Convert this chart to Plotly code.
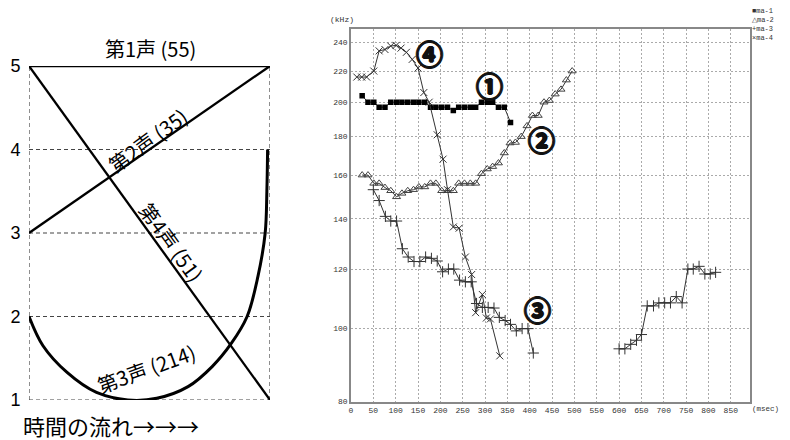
import numpy as np
import plotly.graph_objects as go

# ---------------- Left chart: tone contours ----------------
tone1_x = [0, 1]
tone1_y = [5, 5]
tone2_x = [0, 1]
tone2_y = [3, 5]
tone4_x = [0, 1]
tone4_y = [5, 1]
tone3_x = [0, 0.058, 0.158, 0.28, 0.41, 0.53, 0.66, 0.76, 0.84, 0.905, 0.95, 0.98, 0.987, 0.99]
tone3_y = [2, 1.65, 1.33, 1.09, 1.0, 1.02, 1.16, 1.4, 1.68, 2.0, 2.48, 3.0, 3.5, 4.0]
left_ticks = [1, 2, 3, 4, 5]

# ---------------- Right chart: pitch measurements ----------------
ma1_x = [25, 38, 51, 63, 76, 89, 102, 114, 127, 140, 152, 165, 178, 190, 203, 216, 229,
         241, 254, 267, 279, 292, 305, 317, 330, 343, 357]
ma1_y = [204, 200, 200, 197, 197, 200, 200, 200, 200, 200, 200, 200, 197, 197, 197, 197,
         195, 197, 197, 197, 197, 200, 200, 200, 197, 197, 188]

ma2_x = [25, 38, 51, 63, 76, 89, 102, 114, 127, 140, 152, 165, 178, 190, 203, 216, 229,
         241, 254, 267, 279, 292, 305, 317, 330, 343, 356, 368, 381, 394, 406, 419, 432,
         444, 457, 470, 482, 495]
ma2_y = [160, 160, 156, 156, 154, 152.5, 149.7, 151.3, 152.5, 153, 154.3, 154.3, 156, 156,
         152.5, 152.5, 152.5, 156, 156, 156, 156, 160.7, 163, 164.2, 166, 171.2, 176.5,
         176.8, 180, 186, 192, 192, 200, 201, 205, 208, 214, 220]

ma3_x = [50, 63, 77, 89, 102, 115, 128, 141, 154, 167, 180, 193, 205, 218, 230, 243, 256,
         269, 281, 294, 307, 320, 332, 345, 357, 370, 383, 396, 408, None,
         600, 613, 626, 639, 650, 663, 677, 689, 702, 715, 728, 741, 754, 766, 779, 792,
         804, 816]
ma3_y = [153, 148, 141, 139, 139, 127.7, 124.5, 122.8, 122.8, 124.5, 124, 123, 119, 120,
         120, 116, 115.4, 115.4, 108, 106.7, 106.7, 106.5, 103.5, 102.5, 101.3, 99.3, 100,
         100, 92.8, None,
         94, 94, 95.3, 96.5, 98.2, 107.2, 107.2, 108.2, 108.2, 108.2, 110.3, 108.2, 120,
         120, 121, 118.2, 118.2, 118.8]

ma4_x = [13, 24, 35, 51, 63, 76, 89, 101, 112, 124, 137, 150, 163, 175, 193, 206, 216,
         229, 242, 256, 270, 279, 294, 303, 312, 333]
ma4_y = [216, 216, 216, 220, 234, 235, 237.5, 238, 236, 233, 228, 222, 206, 200, 181, 168,
         153, 136.5, 136, 124.5, 118, 105, 111, 103.3, 103, 92]

x_ticks = list(range(0, 851, 50))
y_ticks = [80, 100, 120, 140, 160, 180, 200, 220, 240]

W, H = 790, 440
OFF = 8  # page offset of the plot div in the viewer


def pxx(x):
    return (x - OFF) / W


def pxy(y):
    return 1 - (y - OFF) / H


fig = go.Figure()

# left grid (dashed) in data coordinates
shapes = []
for yv in [1, 2, 3, 4]:
    shapes.append(dict(type="line", xref="x", yref="y", x0=0, x1=1, y0=yv, y1=yv,
                       line=dict(color="#444", width=1.2, dash="4px,3px"), layer="below"))
for xv in [0, 1]:
    shapes.append(dict(type="line", xref="x", yref="y", x0=xv, x1=xv, y0=1, y1=5,
                       line=dict(color="#444", width=1.2, dash="4px,3px"), layer="below"))

for xs, ys, w in [(tone1_x, tone1_y, 2.5), (tone2_x, tone2_y, 2.3), (tone4_x, tone4_y, 2.3)]:
    fig.add_trace(go.Scatter(x=xs, y=ys, mode="lines", line=dict(color="black", width=w),
                             xaxis="x", yaxis="y", cliponaxis=False, showlegend=False,
                             hoverinfo="skip"))
fig.add_trace(go.Scatter(x=tone3_x, y=tone3_y, mode="lines",
                         line=dict(color="black", width=3, shape="spline", smoothing=1.0),
                         xaxis="x", yaxis="y", cliponaxis=False, showlegend=False,
                         hoverinfo="skip"))

lc = "#333"
fig.add_trace(go.Scatter(x=ma1_x, y=ma1_y, mode="lines+markers", name="ma-1",
                         line=dict(color=lc, width=1),
                         marker=dict(symbol="square", size=5.5, color="black"),
                         xaxis="x2", yaxis="y2", showlegend=False))
fig.add_trace(go.Scatter(x=ma2_x, y=ma2_y, mode="lines+markers", name="ma-2",
                         line=dict(color=lc, width=1),
                         marker=dict(symbol="triangle-up-open", size=7, color="#444",
                                     line=dict(width=1)),
                         xaxis="x2", yaxis="y2", showlegend=False))
fig.add_trace(go.Scatter(x=ma3_x, y=ma3_y, mode="lines+markers", name="ma-3",
                         line=dict(color=lc, width=1), connectgaps=False,
                         marker=dict(symbol="cross-thin-open", size=8,
                                     line=dict(width=1, color="#222")),
                         xaxis="x2", yaxis="y2", showlegend=False))
fig.add_trace(go.Scatter(x=ma4_x, y=ma4_y, mode="lines+markers", name="ma-4",
                         line=dict(color=lc, width=1),
                         marker=dict(symbol="x-thin-open", size=7,
                                     line=dict(width=1, color="#444")),
                         xaxis="x2", yaxis="y2", showlegend=False))

cjk = "Noto Sans CJK JP"
lab_font = dict(family=cjk, size=20, color="black")
small = dict(family="Liberation Mono", size=8, color="#333")
annotations = [
    dict(text="第1声 (55)", x=pxx(150), y=pxy(48), xref="paper", yref="paper",
         xanchor="center", yanchor="middle", showarrow=False, font=lab_font),
    dict(text="第2声 (35)", x=0.49, y=4.11, xref="x", yref="y", showarrow=False,
         xanchor="center", yanchor="middle", textangle=-36, font=lab_font),
    dict(text="第4声 (51)", x=0.593, y=2.89, xref="x", yref="y", showarrow=False,
         xanchor="center", yanchor="middle", textangle=54, font=lab_font),
    dict(text="第3声 (214)", x=0.485, y=1.38, xref="x", yref="y", showarrow=False,
         xanchor="center", yanchor="middle", textangle=-20, font=lab_font),
    dict(text="時間の流れ→→→", x=pxx(21), y=pxy(425), xref="paper", yref="paper",
         xanchor="left", yanchor="middle", showarrow=False,
         font=dict(family=cjk, size=22, color="black")),
    dict(text="(kHz)", x=pxx(342), y=pxy(19), xref="paper", yref="paper",
         xanchor="center", yanchor="middle", showarrow=False, font=small),
    dict(text="(msec)", x=pxx(781), y=pxy(409), xref="paper", yref="paper",
         xanchor="right", yanchor="middle", showarrow=False,
         font=dict(family="Liberation Mono", size=7.5, color="#333")),
    dict(text="■ma-1<br>△ma-2<br>+ma-3<br>×ma-4", x=pxx(750), y=pxy(5),
         xref="paper", yref="paper", xanchor="left", yanchor="top", align="left",
         showarrow=False, font=dict(family="Liberation Mono", size=7, color="#333")),
]
shadow = "1px 0 0 #111, -1px 0 0 #111, 0 1px 0 #111, 0 -1px 0 #111"
for txt, px, py in [("④", 430, 54), ("①", 489, 86), ("②", 541, 139), ("③", 537, 309)]:
    annotations.append(dict(text=txt, x=pxx(px), y=pxy(py),
                            xref="paper", yref="paper", showarrow=False,
                            xanchor="center", yanchor="middle",
                            font=dict(family=cjk, size=27, color="#111", weight="bold",
                                      shadow=shadow)))

fig.update_layout(
    width=W, height=H,
    margin=dict(l=0, r=0, t=0, b=0, autoexpand=False),
    paper_bgcolor="white", plot_bgcolor="white",
    shapes=shapes, annotations=annotations,
    xaxis=dict(domain=[pxx(29), pxx(270)], range=[0, 1], showgrid=False, zeroline=False,
               showticklabels=False, showline=False, ticks=""),
    yaxis=dict(domain=[pxy(400), pxy(66)], range=[1, 5], tickvals=left_ticks,
               showgrid=False, zeroline=False, showline=False,
               ticks="outside", ticklen=4, tickcolor="rgba(0,0,0,0)",
               tickfont=dict(family="Liberation Sans", size=18, color="black")),
    xaxis2=dict(domain=[pxx(351), pxx(750)], range=[0, 893], tickvals=x_ticks,
                showgrid=True, gridcolor="#aaa", griddash="2px,2px", gridwidth=1,
                zeroline=False, showline=True, mirror=True, linecolor="#888",
                linewidth=1.5, anchor="y2", ticks="", tickfont=small),
    yaxis2=dict(domain=[pxy(401.5), pxy(29.3)], type="log",
                range=[np.log10(80), np.log10(250)], tickvals=y_ticks,
                showgrid=True, gridcolor="#aaa", griddash="2px,2px", gridwidth=1,
                zeroline=False, showline=True, mirror=True, linecolor="#888",
                linewidth=1.5, anchor="x2", ticks="", tickfont=small),
)

fig.write_html("out.html")
